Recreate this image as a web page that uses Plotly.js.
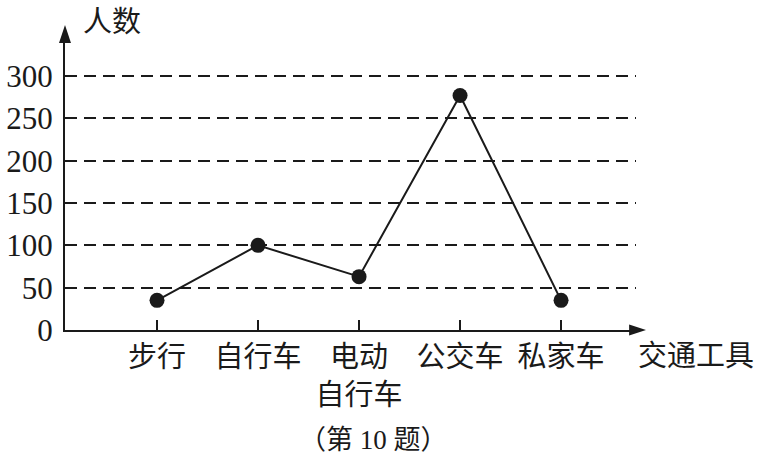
<!DOCTYPE html>
<html>
<head>
<meta charset="utf-8">
<script src="https://cdn.plot.ly/plotly-3.0.1.min.js"></script>
<style>
  html, body { margin: 0; padding: 0; background: #fff; }
  #chart { width: 777px; height: 463px; }
</style>
</head>
<body>
<div id="chart"></div>
<script>
// data
const categories = ['步行', '自行车', '电动<br>自行车', '公交车', '私家车'];
const people = [35, 100, 63, 277, 35];
const yTicks = [0, 50, 100, 150, 200, 250, 300];

const FONT = 'Liberation Serif, "Noto Sans CJK SC", serif';
const INK = '#1a1a1a';

const trace = {
  x: [0, 1, 2, 3, 4],
  y: people,
  type: 'scatter',
  mode: 'lines+markers',
  line: { color: INK, width: 2 },
  marker: { color: INK, size: 15 },
  cliponaxis: false,
  hoverinfo: 'skip'
};

const layout = {
  width: 777,
  height: 463,
  margin: { l: 65, r: 141, t: 40, b: 133 },
  paper_bgcolor: '#fff',
  plot_bgcolor: '#fff',
  showlegend: false,
  font: { family: FONT, color: INK },
  xaxis: {
    range: [-0.911, 4.742],
    tickvals: [0, 1, 2, 3, 4],
    ticktext: categories,
    ticks: 'inside',
    ticklen: 10,
    tickwidth: 1.5,
    tickcolor: INK,
    showline: true,
    linecolor: INK,
    linewidth: 2,
    showgrid: false,
    zeroline: false,
    fixedrange: true,
    tickfont: { family: FONT, size: 29, color: INK }
  },
  yaxis: {
    range: [0, 342.5],
    tickvals: yTicks,
    ticktext: yTicks.map(String),
    ticks: '',
    showline: true,
    linecolor: INK,
    linewidth: 2,
    showgrid: true,
    gridcolor: INK,
    gridwidth: 2.2,
    griddash: '12px,7px',
    zeroline: false,
    fixedrange: true,
    ticklabelstandoff: 4,
    tickfont: { family: FONT, size: 31, color: INK }
  },
  shapes: [
    // arrow heads on the axes
    { type: 'path', xref: 'paper', yref: 'paper',
      path: 'M -0.0105,0.990 L 0,1.052 L 0.0105,0.990 Z',
      fillcolor: INK, line: { width: 0 } },
    { type: 'path', xref: 'paper', yref: 'paper',
      path: 'M 0.988,0.019 L 1.0175,0 L 0.988,-0.019 Z',
      fillcolor: INK, line: { width: 0 } },
    { type: 'line', xref: 'paper', yref: 'paper',
      x0: 0.99, x1: 1.0, y0: 0, y1: 0, line: { color: INK, width: 2 } }
  ],
  annotations: [
    { text: '人数', xref: 'paper', yref: 'paper', x: 0.082, y: 1.062,
      xanchor: 'center', yanchor: 'middle', showarrow: false,
      font: { family: FONT, size: 29, color: INK } },
    { text: '交通工具', xref: 'paper', yref: 'paper', x: 1.0, y: -0.09,
      xanchor: 'left', yanchor: 'middle', showarrow: false,
      font: { family: FONT, size: 29, color: INK } },
    { text: '（第 10 题）', xref: 'paper', yref: 'paper', x: 0.54, y: -0.38,
      xanchor: 'center', yanchor: 'middle', showarrow: false,
      font: { family: FONT, size: 27, color: INK } }
  ]
};

Plotly.newPlot('chart', [trace], layout, { displayModeBar: false, staticPlot: true });
</script>
</body>
</html>
